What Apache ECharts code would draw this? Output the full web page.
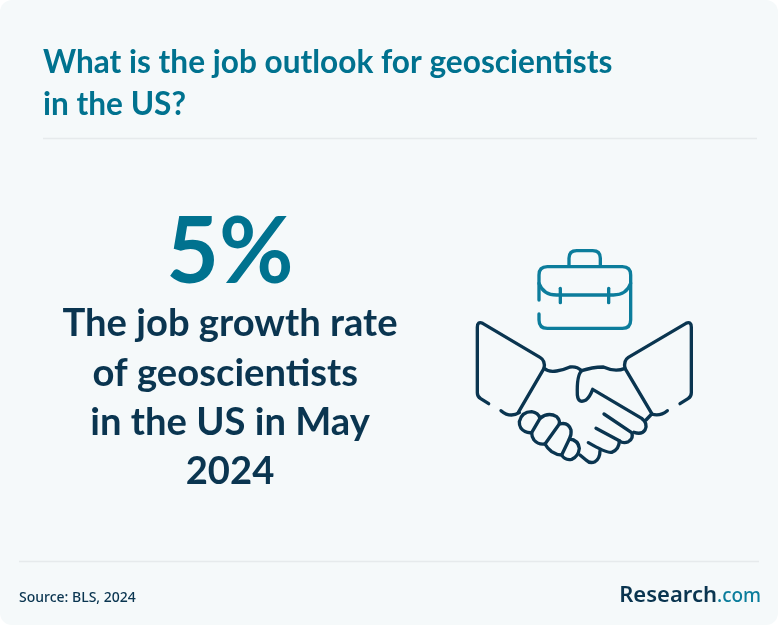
<!DOCTYPE html>
<html><head><meta charset="utf-8">
<style>html,body{margin:0;padding:0;background:#fff}#c{width:778px;height:625px}</style>
<script src="https://cdn.jsdelivr.net/npm/echarts@6/dist/echarts.min.js"></script>
</head><body><div id="c"></div>
<script>
const titleLines = ['What is the job outlook for geoscientists', 'in the US?'];
const statValue = ['5%'];
const statLines = ['The job growth rate', 'of geoscientists ', 'in the US in May', '2024'];
const sourceText = 'Source: BLS, 2024';
const brandParts = ['Research', '.com'];
const TEAL = '#00728f', NAVY = '#0a3550', ICON_TEAL = '#0c7d9c';
const FONT = 'Lato';

const chart = echarts.init(document.getElementById('c'), null, {renderer: 'canvas'});
const text = (x, y, t, size, fill, align, weight, family) => ({
  type: 'text', x, y,
  style: {text: t, fontSize: size, fontWeight: weight || 700, fontFamily: family || FONT, fill, align: align || 'left', verticalAlign: 'middle'}
});
const rule = (x1, x2, y) => ({type: 'line', shape: {x1, y1: y, x2, y2: y}, style: {stroke: '#e6eaec', lineWidth: 1.5}});

const bag = [
  'M237 180V105Q237 80 262 80H487Q512 80 512 105V240Q512 265 487 265H262Q237 265 237 240V222',
  'M327 76V55Q327 32 350 32H398Q421 32 421 55V76',
  'M237 130Q250 165 290 165H460Q500 165 512 130',
  'M301 145V188', 'M446 145V188'
];
const hands = [
  'M86 491L62 476Q52 470 52 458V262Q52 243 68 250L240 352Q257 362 252 385Q265 397 290 393Q310 390 330 381Q350 378 365 392Q395 382 430 381Q465 397 495 385Q490 362 505 352L678 250Q694 243 694 262V458Q694 470 684 476L660 491',
  'M252 385L175 517', 'M495 385L575 520',
  'M123 512Q150 535 178 518', 'M622 512Q600 530 575 522L558 540',
  'M365 392Q350 405 352 465Q355 492 378 480Q390 470 398 448L545 535Q565 550 555 570Q545 585 522 577',
  'M432 522L515 578Q522 595 505 605Q490 612 478 602L408 565',
  'M478 602Q478 628 455 637Q440 640 385 608',
  'M420 632Q420 655 405 665Q390 672 378 660L360 645',
  'M178 545Q185 515 215 515Q235 518 240 535Q265 515 290 530Q300 540 298 552Q325 545 333 570Q335 585 328 597Q355 600 358 625Q355 650 335 658Q315 662 305 645Q290 645 275 635Q262 625 255 612Q235 615 222 600Q215 590 215 578Q195 580 183 565Q177 555 178 545Z',
  'M240 535L215 578', 'M298 552L255 612', 'M328 597L305 645'
];
let shapeId = 0;
const plain = (d, color, w) => {
  const name = 'iconPath' + (shapeId++);
  echarts.graphic.registerShape(name, echarts.graphic.extendPath(d, {}));
  return {type: name, style: {fill: null, stroke: color, lineWidth: w, lineCap: 'round', lineJoin: 'round'}};
};

chart.setOption({
  backgroundColor: '#fff',
  animation: false,
  xAxis: {show: false}, yAxis: {show: false},
  series: [],
  graphic: [
    {type: 'rect', shape: {x: 0, y: 0, width: 778, height: 625, r: 12}, style: {fill: '#f5f9fa'}},
    text(43, 63, titleLines[0], 31.6, TEAL),
    text(43, 105, titleLines[1], 31.6, TEAL),
    rule(43, 757, 138.5),
    text(230, 254, statValue[0], 91, TEAL, 'center', 700),
    ...statLines.map((t, i) => text(230, 324 + i * 49.3, t, 38.2, NAVY, 'center')),
    rule(19, 759, 561.5),
    text(19, 598, sourceText, 14, NAVY, 'left', 500, 'Noto Sans'),
    {type: 'text', x: 717, y: 596, style: {text: brandParts[0], fontSize: 22, fontWeight: 600, fontFamily: 'Noto Sans', fill: NAVY, align: 'right', verticalAlign: 'middle'}},
    {type: 'text', x: 717, y: 597, style: {text: brandParts[1], fontSize: 19, fontWeight: 500, fontFamily: 'Noto Sans', fill: ICON_TEAL, align: 'left', verticalAlign: 'middle'}},
    {type: 'group', x: 460, y: 240, scaleX: 1/3, scaleY: 1/3, children: [
      ...bag.map(d => plain(d, ICON_TEAL, 10)),
      ...hands.map(d => plain(d, NAVY, 10))
    ]}
  ]
});
</script></body></html>
